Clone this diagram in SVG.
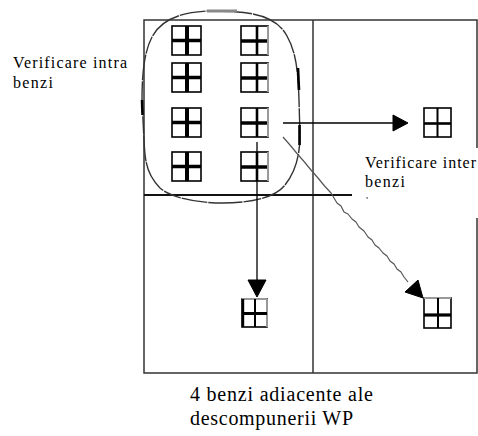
<svg xmlns="http://www.w3.org/2000/svg" width="478" height="436" viewBox="0 0 478 436">
  <style>
    .frame { fill: none; stroke: #333; stroke-width: 1.5; }
    .band { fill: none; stroke: #111; stroke-width: 2.2; }
    .lbl { font-family: "Liberation Serif", "Times New Roman", serif; fill: #000; }
    .small { font-size: 16px; }
    .big { font-size: 20px; }
    .edge { fill: none; stroke: #000; stroke-width: 1.3; }
    .wavy { fill: none; stroke: #555; stroke-width: 1.2; stroke-linejoin: round; }
    .head { fill: #000; stroke: #000; stroke-width: 1; stroke-linejoin: round; }
    .loop { fill: none; stroke: #333; stroke-width: 1.4; stroke-dasharray: 26 1 18 1 34 1; }
    .accent { fill: none; stroke: #000; stroke-width: 2.6; }
    .accentGrey { fill: none; stroke: #888; stroke-width: 3; }
  </style>
  <defs>
    <!-- coefficient block, left column style -->
    <g id="cellL">
      <rect x="0" y="0" width="29" height="29" fill="#fff" stroke="#000" stroke-width="1.6"/>
      <line x1="15" y1="0" x2="15" y2="29" stroke="#000" stroke-width="4"/>
      <line x1="0" y1="14.5" x2="29" y2="14.5" stroke="#000" stroke-width="3.5"/>
    </g>
    <!-- coefficient block, right column style (grey right edge) -->
    <g id="cellR">
      <rect x="0" y="0" width="27" height="29" fill="#fff" stroke="#000" stroke-width="1.6"/>
      <line x1="16" y1="0" x2="16" y2="29" stroke="#000" stroke-width="2.6"/>
      <line x1="0" y1="15" x2="27" y2="15" stroke="#000" stroke-width="3.5"/>
      <line x1="27" y1="0" x2="27" y2="29" stroke="#9a9a9a" stroke-width="2"/>
    </g>
  </defs>

  <rect width="478" height="436" fill="#fff"/>

  <!-- four adjacent bands -->
  <g id="bands">
    <path class="frame" d="M477,148 V20 H144 V373 H477 V218"/>
    <line class="frame" x1="313" y1="20" x2="313" y2="373"/>
    <line class="band" x1="144" y1="195" x2="352" y2="195"/>
  </g>

  <!-- intra-band grouping outline -->
  <g id="group-intra">
    <path class="loop" d="M207,11 C250,11 275,14 287,36 C296,52 298,70 299,100 L300,135 C300,160 293,175 285,185 C275,198 250,203 222,203 C195,203 170,197 160,188 C148,176 145,165 144,140 L142,100 C142,70 145,50 152,37 C160,22 175,13 207,11 Z"/>
    <line class="accentGrey" x1="207" y1="11" x2="237" y2="11"/>
    <line class="accent" x1="142" y1="100" x2="142.5" y2="115"/>
    <line class="accent" x1="298" y1="68" x2="299" y2="90"/>
    <line class="accent" x1="299.5" y1="125" x2="299.5" y2="145"/>
  </g>

  <!-- source blocks -->
  <g id="node-l1"><use href="#cellL" x="172" y="26"/></g>
  <g id="node-r1"><use href="#cellR" x="241" y="26"/></g>
  <g id="node-l2"><use href="#cellL" x="172" y="63"/></g>
  <g id="node-r2"><use href="#cellR" x="241" y="63"/></g>
  <g id="node-l3"><use href="#cellL" x="172" y="108"/></g>
  <g id="node-r3"><use href="#cellR" x="241" y="108"/></g>
  <g id="node-l4"><use href="#cellL" x="172" y="152"/></g>
  <g id="node-r4"><use href="#cellR" x="241" y="152"/></g>

  <!-- target blocks -->
  <g id="node-right">
    <rect x="424" y="108" width="27" height="29" fill="#fff" stroke="#000" stroke-width="1.6"/>
    <line x1="437.5" y1="108" x2="437.5" y2="137" stroke="#000" stroke-width="2"/>
    <line x1="424" y1="123.5" x2="451" y2="123.5" stroke="#000" stroke-width="2.6"/>
  </g>
  <g id="node-below">
    <rect x="242" y="299" width="25" height="28" fill="#fff" stroke="#000" stroke-width="1.6"/>
    <line x1="242" y1="299" x2="267" y2="299" stroke="#999" stroke-width="2"/>
    <line x1="267" y1="299" x2="267" y2="327" stroke="#999" stroke-width="2"/>
    <line x1="243" y1="299" x2="243" y2="327" stroke="#000" stroke-width="2.4"/>
    <line x1="255" y1="299" x2="255" y2="327" stroke="#000" stroke-width="2"/>
    <line x1="242" y1="313.5" x2="267" y2="313.5" stroke="#000" stroke-width="3"/>
  </g>
  <g id="node-diag">
    <rect x="424" y="298" width="27" height="30" fill="#fff" stroke="#000" stroke-width="1.6"/>
    <line x1="424" y1="298" x2="451" y2="298" stroke="#999" stroke-width="2"/>
    <line x1="438" y1="298" x2="438" y2="328" stroke="#000" stroke-width="2"/>
    <line x1="424" y1="315" x2="451" y2="315" stroke="#000" stroke-width="3.2"/>
  </g>

  <!-- connectors -->
  <g id="connectors">
    <line class="edge" x1="283" y1="123" x2="395" y2="123"/>
    <polygon class="head" points="393,115 408,123 393,131"/>
    <line class="edge" x1="257" y1="142" x2="257" y2="282"/>
    <polygon class="head" points="248,280 266,280 257,297"/>
    <polyline class="wavy" points="283,137 290,145 297,153.5 304,161.5 311,170 318,178 325,186.5 331,193 334,198 337,203 341,206 344,212 348,214 352,219 356,222 359,227 364,231 368,237 372,240 375,245 379,248 383,253 387,256 390,261 394,264 397,269 401,272 404,277 408,282"/>
    <polygon class="head" points="405,292 418,280 423,298"/>
  </g>

  <!-- labels -->
  <g id="labels">
    <text class="lbl small" x="13" y="68" textLength="114" lengthAdjust="spacing">Verificare intra</text>
    <text class="lbl small" x="13" y="88" textLength="40" lengthAdjust="spacing">benzi</text>
    <text class="lbl small" x="365" y="168" textLength="111" lengthAdjust="spacing">Verificare inter</text>
    <text class="lbl small" x="365" y="187" textLength="40" lengthAdjust="spacing">benzi</text>
    <rect x="366.5" y="197" width="1.2" height="1.8" fill="#555"/>
    <text class="lbl big" x="190" y="401" textLength="183" lengthAdjust="spacing">4 benzi adiacente ale</text>
    <text class="lbl big" x="190" y="425" textLength="163" lengthAdjust="spacing">descompunerii WP</text>
  </g>
</svg>
